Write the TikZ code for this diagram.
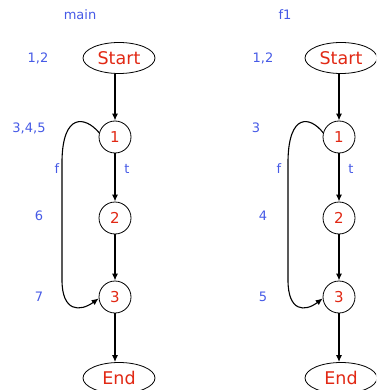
\documentclass[tikz,border=0pt]{standalone}
\usepackage{fontspec}
\setmainfont{DejaVu Sans}
\usetikzlibrary{arrows.meta,shapes.geometric}
\definecolor{nred}{RGB}{225,40,20}
\definecolor{lblue}{RGB}{70,90,230}
\begin{document}
\begin{tikzpicture}[x=1pt,y=-1pt,
  term/.style={ellipse,draw,line width=0.8pt,minimum width=72pt,minimum height=31pt,inner sep=0pt,text=nred,font=\fontsize{17.5}{19}\selectfont},
  cnode/.style={circle,draw,line width=0.8pt,minimum size=32pt,inner sep=0pt,text=nred,font=\fontsize{15}{17}\selectfont},
  lab/.style={text=lblue,font=\fontsize{13}{15}\selectfont,inner sep=0pt},
  edge/.style={-{Latex[length=7pt,width=6pt]},line width=1.3pt},
  loop/.style={-{Latex[length=7pt,width=6pt]},line width=1.1pt}]
\useasboundingbox (0,0) rectangle (376,390);
\begin{scope}
\clip (0,0) rectangle (376,390);
% left graph
\node[term] (s1) at (119,58) {Start};
\node[cnode] (a1) at (115,137) {1};
\node[cnode] (a2) at (115,218) {2};
\node[cnode] (a3) at (115,297) {3};
\node[term] (e1) at (119,378) {End};
\node[lab] (lm) at (80,15) {main};
\node[lab] (l12) at (38,58) {1,2};
\node[lab] (l345) at (29,128) {3,4,5};
\node[lab] (lf) at (57,169) {f};
\node[lab] (lt) at (127,169) {t};
\node[lab] (l6) at (39,216) {6};
\node[lab] (l7) at (39,297) {7};
\draw[edge] (s1.south -| a1) -- (a1);
\draw[edge] (a1) -- (a2);
\draw[edge] (a2) -- (a3);
\draw[edge] (a3) -- (e1.north -| a3);
\coordinate (ca) at (62,160);
\coordinate (cb) at (62,280);
\draw[loop] (a1.165) .. controls (85,116) and (63,113) .. (ca) -- (cb) .. controls (62,312) and (80,312) .. (a3.185);
% right graph
\node[term] (s2) at (341,58) {Start};
\node[cnode] (b1) at (339,137) {1};
\node[cnode] (b2) at (339,218) {2};
\node[cnode] (b3) at (339,297) {3};
\node[term] (e2) at (341,378) {End};
\node[lab] (rm) at (285,15) {f1};
\node[lab] (r12) at (263,58) {1,2};
\node[lab] (r3) at (256,128) {3};
\node[lab] (rf) at (279,169) {f};
\node[lab] (rt) at (351,169) {t};
\node[lab] (r4) at (263,216) {4};
\node[lab] (r5) at (263,297) {5};
\draw[edge] (s2.south -| b1) -- (b1);
\draw[edge] (b1) -- (b2);
\draw[edge] (b2) -- (b3);
\draw[edge] (b3) -- (e2.north -| b3);
\coordinate (cc) at (288,160);
\coordinate (cd) at (288,280);
\draw[loop] (b1.165) .. controls (310,116) and (289,113) .. (cc) -- (cd) .. controls (288,312) and (305,312) .. (b3.185);
\end{scope}
\end{tikzpicture}
\end{document}
